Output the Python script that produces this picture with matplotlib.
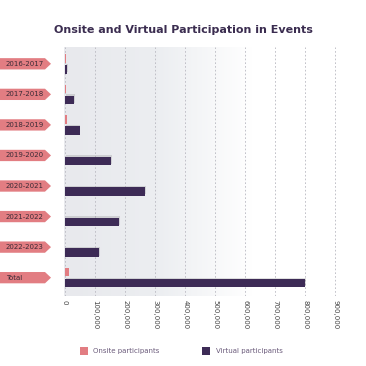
import numpy as np
import matplotlib.pyplot as plt
import matplotlib.patheffects as pe
from matplotlib.patches import Polygon, Rectangle
from matplotlib.transforms import blended_transform_factory
from matplotlib.colors import LinearSegmentedColormap

years = ['2016-2017', '2017-2018', '2018-2019', '2019-2020', '2020-2021',
         '2021-2022', '2022-2023', 'Total']
onsite = [4000, 3500, 6500, 0, 0, 0, 0, 13500]
virtual = [7000, 31000, 49000, 153000, 267000, 180000, 113000, 800000]
xticks = [0, 100000, 200000, 300000, 400000, 500000, 600000, 700000, 800000, 900000]

pink = '#e27d82'
purple = '#3d2b56'
W = 366

fig = plt.figure(figsize=(3.66, 3.66), dpi=100)
ax = fig.add_axes([64 / W, 1 - 296 / W, 276 / W, 249 / W])

x0, x1 = -3300, 915000
y = np.arange(len(years))

# faded grey background on the left part of the plot
cmap = LinearSegmentedColormap.from_list('bg', ['#e8e9ed', '#eceef1', '#ffffff'])
grad = np.linspace(0, 1, 256).reshape(1, -1)
ax.imshow(grad, cmap=cmap, aspect='auto', extent=(x0, 620000, 7.6, -0.55), zorder=0)

for t in xticks:
    ax.axvline(t, color='#b8b8c0', lw=0.6, ls=(0, (2, 2.5)), zorder=1)

h = 0.28
ax.barh(y - 0.18, onsite, h, color=pink, zorder=3, label='Onsite participants')
bars = ax.barh(y + 0.18, virtual, h, color=purple, zorder=3, label='Virtual participants')
for b in bars:
    b.set_path_effects([pe.SimplePatchShadow(offset=(0.5, 1.0), shadow_rgbFace='#555555', alpha=0.18),
                        pe.Normal()])

ax.set_xlim(x0, x1)
ax.set_ylim(7.6, -0.55)
ax.set_yticks([])
ax.set_xticks(xticks)
ax.set_xticklabels([f'{t:,}' for t in xticks], rotation=270, fontsize=5, color='#444444')
ax.tick_params(axis='x', length=0, pad=3)
for s in ax.spines.values():
    s.set_visible(False)

# arrow-shaped category tags on the left
tr = blended_transform_factory(fig.transFigure, ax.transData)
th = 0.37
for i, lab in enumerate(years):
    pts = [(0, i - th / 2), (45 / W, i - th / 2), (51 / W, i), (45 / W, i + th / 2), (0, i + th / 2)]
    fig.patches.append(Polygon(pts, closed=True, transform=tr, facecolor=pink, edgecolor='none'))
    fig.text(6 / W, i, lab, transform=tr, fontsize=5, color='#3a2a35', va='center', ha='left')

fig.text(183 / W, 1 - 30 / W, 'Onsite and Virtual Participation in Events', ha='center', va='center',
         fontsize=8, fontweight='bold', color='#3b2d50')

# legend
fig.patches.append(Rectangle((80 / W, 1 - 355 / W), 8 / W, 8 / W, transform=fig.transFigure,
                             facecolor=pink, edgecolor='none'))
fig.text(93 / W, 1 - 351 / W, 'Onsite participants', fontsize=5, color='#6a5a7a', va='center')
fig.patches.append(Rectangle((202 / W, 1 - 355 / W), 8 / W, 8 / W, transform=fig.transFigure,
                             facecolor=purple, edgecolor='none'))
fig.text(216 / W, 1 - 351 / W, 'Virtual participants', fontsize=5, color='#6a5a7a', va='center')

plt.savefig('out.png', dpi=100)
